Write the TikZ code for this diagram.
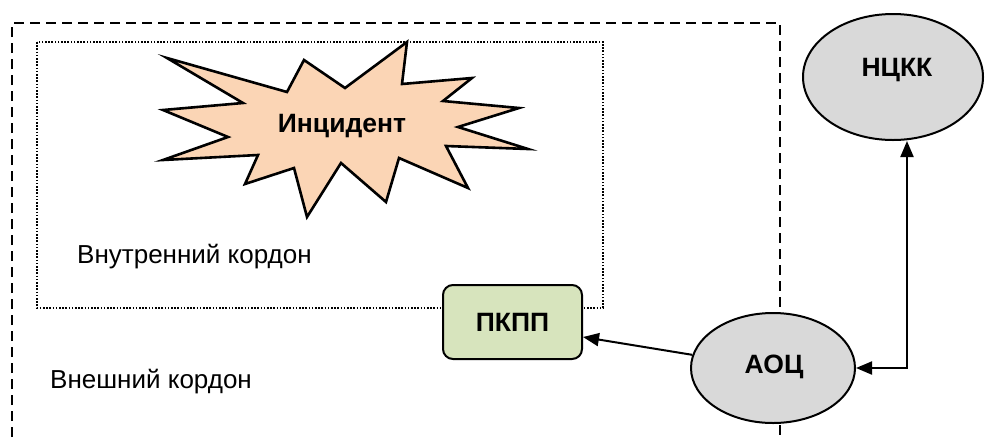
\documentclass[tikz,border=0pt]{standalone}
\usepackage{fontspec}
\setmainfont{Liberation Sans}
\usetikzlibrary{arrows.meta,calc,shapes.geometric}
\definecolor{burstfill}{HTML}{FBD5B5}
\definecolor{postfill}{HTML}{D7E4BD}
\definecolor{centrefill}{HTML}{D9D9D9}
\begin{document}
\begin{tikzpicture}[x=1pt,y=-1pt,
  >={Triangle[length=16pt,width=13pt]},
  cordonouter/.style={line width=2.2pt, dash pattern=on 10pt off 6pt},
  cordoninner/.style={line width=1.8pt, dash pattern=on 1.6pt off 1.6pt},
  burst/.style={draw, line width=2.6pt, fill=burstfill, line join=miter},
  centre/.style={ellipse, draw, line width=2pt, fill=centrefill, inner sep=0pt},
  post/.style={draw, line width=2pt, fill=postfill, rounded corners=10pt,
    minimum width=139pt, minimum height=74pt,
    font=\fontsize{26.5}{31}\selectfont\bfseries},
  boldlabel/.style={font=\fontsize{26.5}{31}\selectfont\bfseries, inner sep=0pt},
  plainlabel/.style={font=\fontsize{26}{31}\selectfont, inner sep=0pt},
  link/.style={line width=2pt, line join=miter},
]
\useasboundingbox (0,0) rectangle (985,437);

% outer cordon (open at the bottom edge)
\draw[cordonouter] (12,437) -- (12,23) -- (780,23) -- (780,437);

% inner cordon
\draw[cordoninner] (37,42) rectangle (603,308);

% incident burst
\draw[burst] (167,58) -- (287,92) -- (304,60) -- (345,88) -- (407,42)
  -- (402,84) -- (472,78) -- (443,101) -- (519,108) -- (458,127)
  -- (528,149) -- (446,146) -- (468,188) -- (399,158) -- (386,202)
  -- (341,163) -- (307,217) -- (294,168) -- (245,184) -- (258,155)
  -- (163,160) -- (228,137) -- (163,110) -- (243,103) -- cycle;
\node[boldlabel, anchor=base] (inc) at (342,132) {Инцидент};

% cordon labels
\node[plainlabel, anchor=base west] (innerlbl) at (77,263) {Внутренний кордон};
\node[plainlabel, anchor=base west] (outerlbl) at (50,388) {Внешний кордон};

% control post
\node[post] (pkpp) at (512.5,322) {ПКПП};

% operational centres
\node[centre, minimum width=164pt, minimum height=110pt] (aoc) at (773,368) {};
\node[boldlabel, anchor=base] (aoctext) at (774,373) {АОЦ};
\node[centre, minimum width=180pt, minimum height=126pt] (nckk) at (893,77) {};
\node[boldlabel, anchor=base] (nckktext) at (897,76) {НЦКК};

% connectors
\coordinate (bend) at (907,368);
\draw[link, ->] (aoc) -- ($(pkpp.east)+(0,15)$);
\draw[link, <->] (aoc.east) -- (bend) -- (nckk.south -| bend);
\end{tikzpicture}
\end{document}
